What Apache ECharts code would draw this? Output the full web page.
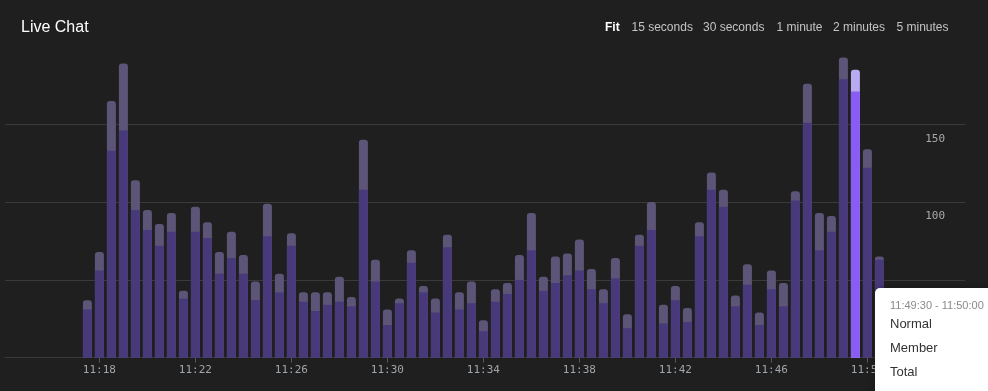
<!DOCTYPE html>
<html>
<head>
<meta charset="utf-8">
<script src="https://cdn.jsdelivr.net/npm/echarts@6/dist/echarts.min.js"></script>
<style>
html,body{margin:0;padding:0;background:#1f1f1f;}
#chart{width:988px;height:391px;}
</style>
</head>
<body>
<div id="chart"></div>
<script>
// 30-second bins, bar placed at bin start
const times = [
 '11:17:30','11:18:00','11:18:30','11:19:00','11:19:30','11:20:00','11:20:30','11:21:00','11:21:30','11:22:00',
 '11:22:30','11:23:00','11:23:30','11:24:00','11:24:30','11:25:00','11:25:30','11:26:00','11:26:30','11:27:00',
 '11:27:30','11:28:00','11:28:30','11:29:00','11:29:30','11:30:00','11:30:30','11:31:00','11:31:30','11:32:00',
 '11:32:30','11:33:00','11:33:30','11:34:00','11:34:30','11:35:00','11:35:30','11:36:00','11:36:30','11:37:00',
 '11:37:30','11:38:00','11:38:30','11:39:00','11:39:30','11:40:00','11:40:30','11:41:00','11:41:30','11:42:00',
 '11:42:30','11:43:00','11:43:30','11:44:00','11:44:30','11:45:00','11:45:30','11:46:00','11:46:30','11:47:00',
 '11:47:30','11:48:00','11:48:30','11:49:00','11:49:30','11:50:00','11:50:30'
];
const normal = [
 31,56,133,146,95,82,72,81,38,81,77,54,64,54,37,78,42,
 72,36,30,34,36,33,108,49,21,35,61,42,29,71,31,35,17,
 36,41,50,69,43,48,53,56,44,35,51,19,72,82,22,37,23,
 78,108,97,33,47,21,44,33,101,151,69,81,179,171,122,63
];
const member = [
 6,12,32,43,19,13,14,12,5,16,10,14,17,12,12,21,12,
 8,6,12,8,16,6,32,14,10,3,8,4,9,8,11,14,7,
 8,7,16,24,9,17,14,20,13,9,13,9,7,18,12,9,9,
 9,11,11,7,13,8,12,15,6,25,24,10,14,14,12,2
];
const xTickLabels = ['11:18','11:22','11:26','11:30','11:34','11:38','11:42','11:46','11:50'];
const yTicks = [0, 50, 100, 150];
const rangeStart = '11:14:04';
const rangeEnd = '11:54:04';
const highlighted = '11:49:30';
const tooltipRange = '11:49:30 - 11:50:00';
const buttons = ['Fit','15 seconds','30 seconds','1 minute','2 minutes','5 minutes'];

function toSec(t){ const p=t.split(':').map(Number); return (p[0]-11)*3600+p[1]*60+(p[2]||0); }
function fmt(s){ const m=Math.floor(s/60); return '11:'+String(m).padStart(2,'0'); }

const hiIdx = times.indexOf(highlighted);
// member segment sits on top of normal: drawn as the full-height bar behind the normal bar
const totalData = times.map((t,i)=>{
  const d={value:[toSec(t), normal[i]+member[i]]};
  if(i===hiIdx) d.itemStyle={color:'#b9abf0'};
  return d;
});
const normalData = times.map((t,i)=>{
  const d={value:[toSec(t), normal[i]]};
  if(i===hiIdx) d.itemStyle={color:'#8a5cf6'};
  return d;
});

const btnX = [605, 631.5, 703, 776.5, 833, 896.5];
const graphics = [
  {type:'text', left:21, top:20, z:100, style:{text:'Live Chat', fill:'#ffffff', font:'16px "Liberation Sans", Arial, sans-serif'}}
];
buttons.forEach((b,i)=>{
  graphics.push({type:'text', left:btnX[i], top:22, z:100, style:{text:b, fill: i===0?'#ffffff':'#c4c4c4',
    font:(i===0?'bold ':'')+'12px "Liberation Sans", Arial, sans-serif'}});
});
graphics.push({type:'rect', shape:{x:875,y:288,width:140,height:130,r:[5,0,0,0]}, z:100,
  style:{fill:'#ffffff', shadowBlur:6, shadowColor:'rgba(0,0,0,0.3)'}});
graphics.push({type:'text', left:890, top:300.5, z:101, style:{text:tooltipRange, fill:'#8a8a8a', font:'11px "Liberation Sans", Arial, sans-serif'}});
['Normal','Member','Total'].forEach((n,i)=>{
  graphics.push({type:'text', left:890, top:318+i*24.2, z:101, style:{text:n, fill:'#333333', font:'13px "Liberation Sans", Arial, sans-serif'}});
});

const chart = echarts.init(document.getElementById('chart'), null, {renderer:'canvas'});
chart.setOption({
  backgroundColor:'#1f1f1f',
  animation:false,
  grid:{left:5, right:23, top:46.5, bottom:33.3, containLabel:false},
  xAxis:{
    type:'value', min:toSec(rangeStart), max:toSec(rangeEnd),
    axisLine:{show:true, lineStyle:{color:'#3a3a3a', width:1}},
    axisTick:{show:true, length:5, lineStyle:{color:'#555555'}, customValues:xTickLabels.map(toSec)},
    axisLabel:{color:'#9fa5ab', fontFamily:'"DejaVu Sans Mono", monospace', fontSize:11, margin:7,
      customValues:xTickLabels.map(toSec), formatter:v=>fmt(v)},
    splitLine:{show:false}
  },
  yAxis:{
    type:'value', min:0, max:200, interval:50, position:'right',
    axisLine:{show:false}, axisTick:{show:false},
    splitLine:{show:true, showMaxLine:false, showMinLine:false, lineStyle:{color:'#3a3a3a', width:1}},
    axisLabel:{inside:true, margin:20, color:'#a8a8a8', fontFamily:'"DejaVu Sans Mono", monospace', fontSize:11,
      verticalAlign:'top', padding:[9,0,0,0], showMaxLabel:false, showMinLabel:false,
      formatter:v=> yTicks.includes(v) ? String(v) : ''}
  },
  series:[
    {name:'Member', type:'bar', barWidth:9, barGap:'-100%', data:totalData, z:2,
      itemStyle:{color:'#5d5577', borderRadius:[3,3,0,0]}},
    {name:'Normal', type:'bar', barWidth:9, barGap:'-100%', data:normalData, z:3,
      itemStyle:{color:'#483a7a'}}
  ],
  graphic:graphics
});
</script>
</body>
</html>
